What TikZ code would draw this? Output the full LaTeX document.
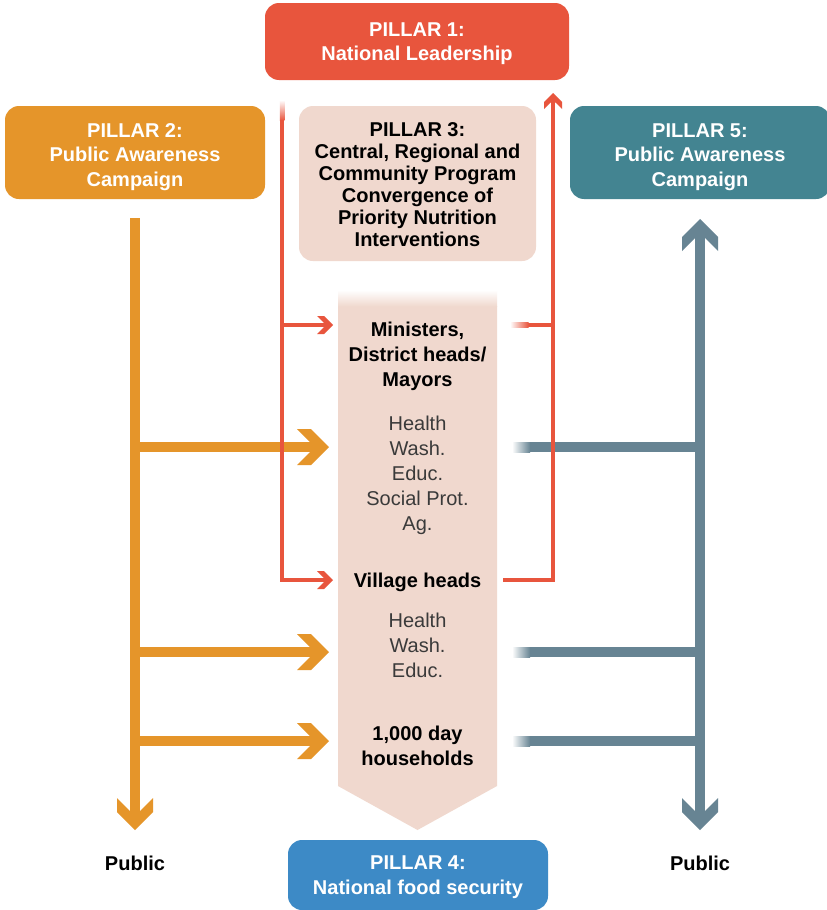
\documentclass[tikz,border=0pt]{standalone}
\usepackage{fontspec}
\setmainfont{Liberation Sans}
\usetikzlibrary{arrows.meta}
\pgfdeclarearrow{
  name = Chev,
  parameters = {\the\pgfarrowlength},
  setup code = {
    \pgfarrowssettipend{0pt}
    \pgfarrowssetlineend{-0.3\pgfarrowlength}
    \pgfarrowssetbackend{-\pgfarrowlength}
    \pgfarrowssetvisualbackend{-0.6\pgfarrowlength}
    \pgfarrowsupperhullpoint{-\pgfarrowlength}{0.5625\pgfarrowlength}
    \pgfarrowsupperhullpoint{0pt}{0pt}
    \pgfarrowssavethe\pgfarrowlength
  },
  drawing code = {
    \pgfpathmoveto{\pgfqpoint{0pt}{0pt}}
    \pgfpathlineto{\pgfpoint{-0.5625\pgfarrowlength}{0.5625\pgfarrowlength}}
    \pgfpathlineto{\pgfpoint{-\pgfarrowlength}{0.5625\pgfarrowlength}}
    \pgfpathlineto{\pgfpoint{-0.59375\pgfarrowlength}{0.15625\pgfarrowlength}}
    \pgfpathlineto{\pgfpoint{-0.59375\pgfarrowlength}{-0.15625\pgfarrowlength}}
    \pgfpathlineto{\pgfpoint{-\pgfarrowlength}{-0.5625\pgfarrowlength}}
    \pgfpathlineto{\pgfpoint{-0.5625\pgfarrowlength}{-0.5625\pgfarrowlength}}
    \pgfpathclose
    \pgfusepathqfill
  },
  defaults = {length = 32pt}
}
\definecolor{pred}{HTML}{E8553D}
\definecolor{porange}{HTML}{E5952A}
\definecolor{ppink}{HTML}{F0D8CE}
\definecolor{pteal}{HTML}{438491}
\definecolor{pgray}{HTML}{678493}
\definecolor{pblue}{HTML}{3D8AC6}
\definecolor{ptext}{HTML}{3A3A3A}
\newcommand\tstrut[1]{\rule{0pt}{#1}}
\begin{document}
\begin{tikzpicture}[x=1pt,y=-1pt,
  pillar/.style={rounded corners=14pt, inner sep=0pt, align=center, text=white,
    font=\fontsize{20}{24.5}\selectfont\bfseries},
  ctext/.style={align=center, inner sep=0pt, text=black,
    font=\fontsize{20}{25}\selectfont\bfseries},
  ltext/.style={align=center, inner sep=0pt, text=ptext,
    font=\fontsize{20}{25}\selectfont},
  oline/.style={draw=porange, line width=10pt},
  gline/.style={draw=pgray, line width=10pt},
  rline/.style={draw=pred, line width=4.5pt},
  smallchev/.style={-{Chev[length=16pt]}},
  bigchev/.style={-{Chev[length=32pt]}}
]
\clip (0,0) rectangle (827,910);
\fill[white] (0,0) rectangle (827,910);

% pillar boxes
\node[pillar, fill=pred, minimum width=304pt, minimum height=77pt] (p1) at (417,41.5)
  {\tstrut{18.5pt}PILLAR 1:\\National Leadership};
\node[pillar, fill=porange, minimum width=260pt, minimum height=93pt] (p2) at (135,152.5)
  {\tstrut{22.5pt}PILLAR 2:\\Public Awareness\\Campaign};
\node[pillar, fill=ppink, text=black, minimum width=237pt, minimum height=155pt,
  font=\fontsize{20}{21.9}\selectfont\bfseries] (p3) at (417.5,183.5)
  {\tstrut{16pt}PILLAR 3:\\Central, Regional and\\Community Program\\Convergence of\\Priority Nutrition\\Interventions};
\node[pillar, fill=pteal, minimum width=260pt, minimum height=93pt] (p5) at (700,152.5)
  {\tstrut{22.5pt}PILLAR 5:\\Public Awareness\\Campaign};
\node[pillar, fill=pblue, minimum width=260pt, minimum height=70pt] (p4) at (418,875)
  {\tstrut{18.5pt}PILLAR 4:\\National food security};

% central column
\fill[ppink] (338,306) -- (497,306) -- (497,786) -- (417.5,830) -- (338,786) -- cycle;
\shade[top color=white, bottom color=ppink] (338,290) rectangle (497,306.5);

\node[ctext] (min) at (417.5,356.5) {Ministers,\\District heads/\\Mayors};
\node[ltext] (sec1) at (417.5,475) {Health\\Wash.\\Educ.\\Social Prot.\\Ag.};
\node[ctext] (vil) at (417.5,582) {Village heads};
\node[ltext] (sec2) at (417.5,645) {Health\\Wash.\\Educ.};
\node[ctext] (hh) at (417.5,745.5) {1,000 day\\households};

\node[ctext] (pubL) at (135,863.5) {Public};
\node[ctext] (pubR) at (700,863.5) {Public};

% coordinates
\coordinate (oTop) at (135,218);
\coordinate (oBot) at (135,830);
\coordinate (o1) at (135,447);
\coordinate (o2) at (135,652);
\coordinate (o3) at (135,741);
\coordinate (c1) at (329,447);
\coordinate (c2) at (329,652);
\coordinate (c3) at (329,741);
\coordinate (gTop) at (700,219);
\coordinate (gBot) at (700,830);
\coordinate (g1) at (700,447);
\coordinate (g2) at (700,652);
\coordinate (g3) at (700,741);
\coordinate (r1) at (530,447);
\coordinate (r2) at (530,652);
\coordinate (r3) at (530,741);

% orange
\draw[oline, bigchev] (oTop) -- (oBot);
\draw[oline, bigchev] (o1) -- (c1);
\draw[oline, bigchev] (o2) -- (c2);
\draw[oline, bigchev] (o3) -- (c3);

% gray
\draw[gline, {Chev[length=32pt]}-{Chev[length=32pt]}] (gTop) -- (gBot);
\foreach \i in {1,2,3} {
  \draw[gline] (r\i) -- (g\i);
  \shade[left color=white, right color=pgray] ([xshift=-18pt,yshift=-5pt]r\i) rectangle ([yshift=5pt]r\i);
}

% red
\coordinate (rlTop) at (282,120);
\coordinate (rlMid) at (282,325);
\coordinate (rlBot) at (282,580);
\coordinate (minL) at (333,325);
\coordinate (vilL) at (333,580);
\coordinate (vilR) at (503,580);
\coordinate (rrBot) at (553,580);
\coordinate (rrTop) at (553,93);
\coordinate (rrMid) at (553,325);
\coordinate (minR) at (528,325);
\shade[top color=white, bottom color=pred] (279.75,100) rectangle (284.25,120.5);
\draw[rline, smallchev] (rlTop) -- (rlBot) -- (vilL);
\draw[rline, smallchev] (rlMid) -- (minL);
\draw[rline, smallchev] (vilR) -- (rrBot) -- (rrTop);
\draw[rline] (minR) -- (rrMid);
\shade[left color=white, right color=pred] (510,322.75) rectangle (528.5,327.25);
\end{tikzpicture}
\end{document}
